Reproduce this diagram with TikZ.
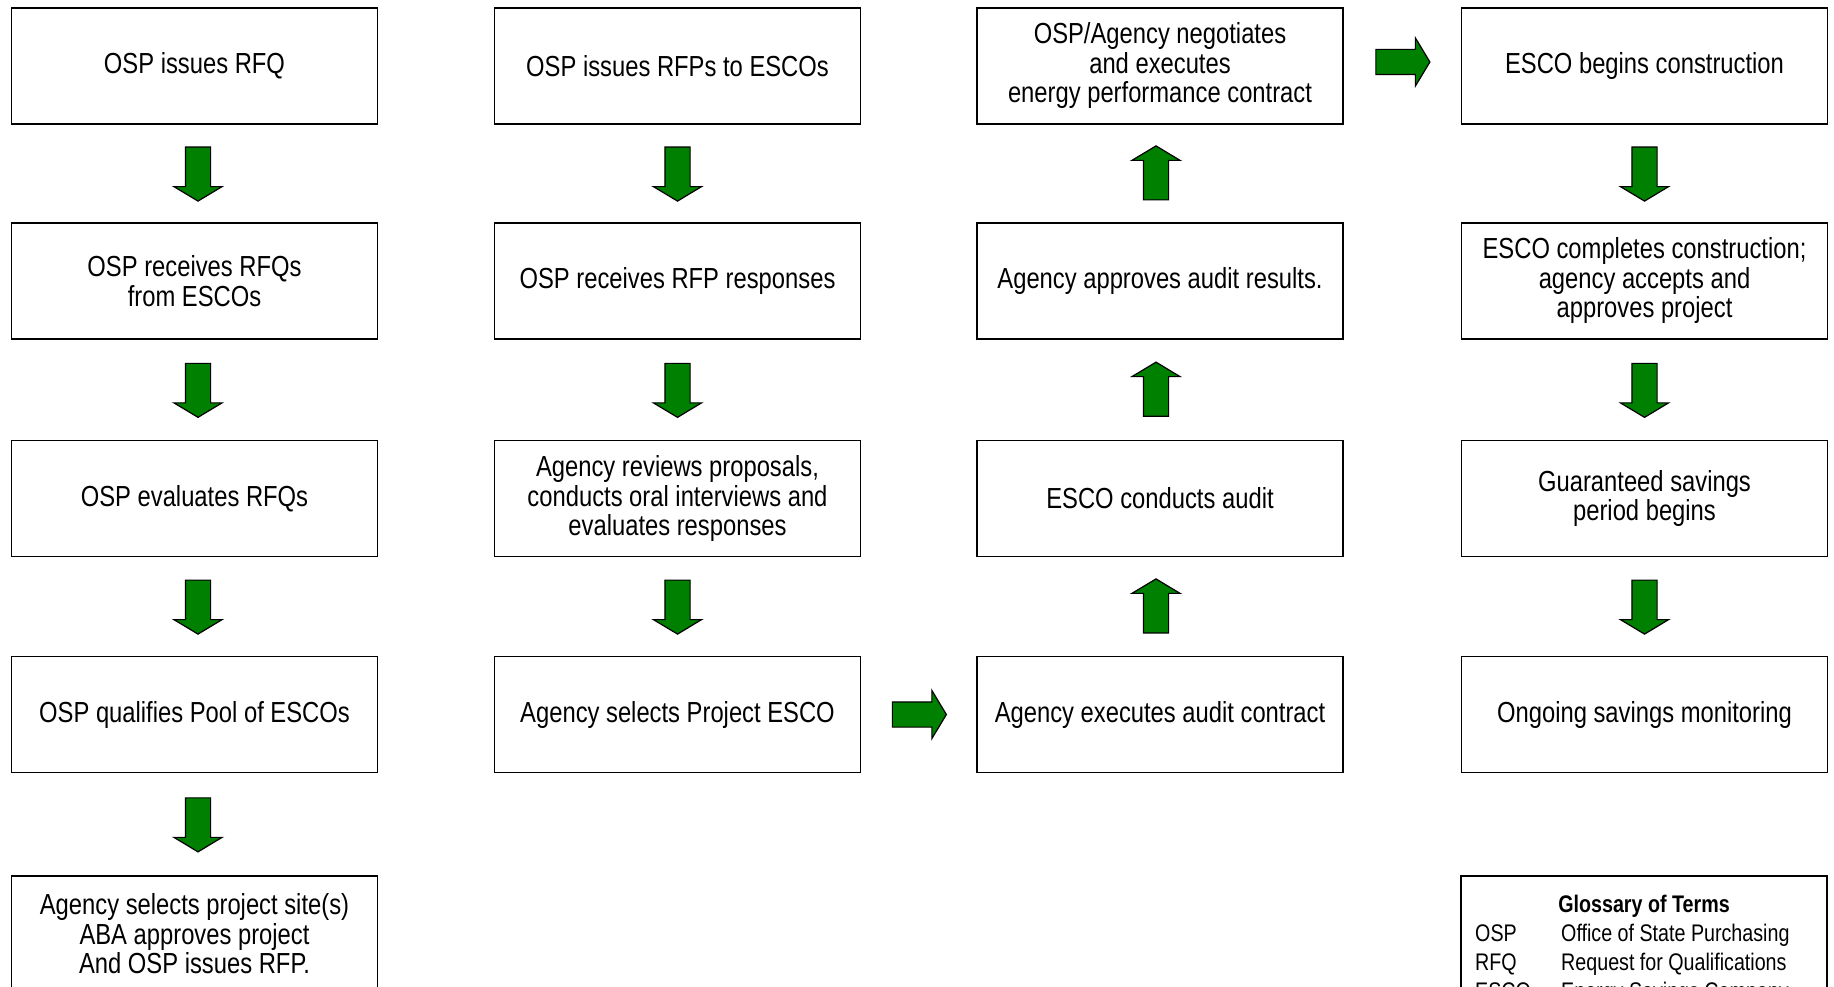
\documentclass[tikz,border=0pt]{standalone}
\usepackage{fontspec}
\setmainfont{Liberation Sans}[FakeStretch=0.82]
\usetikzlibrary{calc,shapes.arrows}
\definecolor{arrowgreen}{RGB}{0,128,0}

\begin{document}
\begin{tikzpicture}[x=1pt,y=-1pt,
		stepbox/.style={draw, line width=1.4pt, minimum width=366pt, minimum height=116pt, align=center, inner sep=0pt, font=\fontsize{29}{29.5}\selectfont},
		blockarrow/.style={single arrow, draw, fill=arrowgreen, line width=1.2pt, inner xsep=0pt, inner ysep=12pt, minimum height=54pt, single arrow head extend=11.5pt, single arrow tip angle=118, anchor=tail},
		downarrow/.style={blockarrow, rotate=-90},
		uparrow/.style={blockarrow, rotate=90},
		gloss/.style={font=\fontsize{24}{29}\selectfont, inner sep=0pt}]
			\useasboundingbox (0,0) rectangle (1834,987);
			\clip (0,0) rectangle (1834,987);
			\node[stepbox] (rfq) at (194.5,66) {OSP issues RFQ};
			\node[stepbox] (rfqin) at (194.5,281) {OSP receives RFQs\\from ESCOs};
			\node[stepbox] (rfqeval) at (194.5,498.5) {OSP evaluates RFQs};
			\node[stepbox] (pool) at (194.5,714.5) {OSP qualifies Pool of ESCOs};
			\node[stepbox] (site) at (194.5,934) {Agency selects project site(s)\\ABA approves project\\And OSP issues RFP.};
			\node[stepbox] (rfp) at (677.5,66) {OSP issues RFPs to ESCOs};
			\node[stepbox] (rfpin) at (677.5,281) {OSP receives RFP responses};
			\node[stepbox] (review) at (677.5,498.5) {Agency reviews proposals,\\conducts oral interviews and\\evaluates responses};
			\node[stepbox] (select) at (677.5,714.5) {Agency selects Project ESCO};
			\node[stepbox] (contract) at (1160,66) {OSP/Agency negotiates\\and executes\\energy performance contract};
			\node[stepbox] (approve) at (1160,281) {Agency approves audit results.};
			\node[stepbox] (audit) at (1160,498.5) {ESCO conducts audit};
			\node[stepbox] (auditct) at (1160,714.5) {Agency executes audit contract};
			\node[stepbox] (build) at (1644.5,66) {ESCO begins construction};
			\node[stepbox] (accept) at (1644.5,281) {ESCO completes construction;\\agency accepts and\\approves project};
			\node[stepbox] (savings) at (1644.5,498.5) {Guaranteed savings\\period begins};
			\node[stepbox] (monitor) at (1644.5,714.5) {Ongoing savings monitoring};
			\node[downarrow] (a1) at ($(rfq.south)!0.5!(rfqin.north)+(3.5,-27)$) {};
			\node[downarrow] (a2) at ($(rfqin.south)!0.5!(rfqeval.north)+(3.5,-27)$) {};
			\node[downarrow] (a3) at ($(rfqeval.south)!0.5!(pool.north)+(3.5,-27)$) {};
			\node[downarrow] (a4) at ($(pool.south)!0.5!(site.north)+(3.5,-27)$) {};
			\node[downarrow] (b1) at ($(rfp.south)!0.5!(rfpin.north)+(0,-27)$) {};
			\node[downarrow] (b2) at ($(rfpin.south)!0.5!(review.north)+(0,-27)$) {};
			\node[downarrow] (b3) at ($(review.south)!0.5!(select.north)+(0,-27)$) {};
			\node[blockarrow] (b4) at ($(select.east)!0.5!(auditct.west)+(-27,0)$) {};
			\node[uparrow] (c1) at ($(auditct.north)!0.5!(audit.south)+(-4,27)$) {};
			\node[uparrow] (c2) at ($(audit.north)!0.5!(approve.south)+(-4,27)$) {};
			\node[uparrow] (c3) at ($(approve.north)!0.5!(contract.south)+(-4,27)$) {};
			\node[blockarrow] (c4) at ($(contract.east)!0.5!(build.west)+(-27,-4)$) {};
			\node[downarrow] (d1) at ($(build.south)!0.5!(accept.north)+(0,-27)$) {};
			\node[downarrow] (d2) at ($(accept.south)!0.5!(savings.north)+(0,-27)$) {};
			\node[downarrow] (d3) at ($(savings.south)!0.5!(monitor.north)+(0,-27)$) {};
			\node[draw, line width=1.4pt, minimum width=366pt, minimum height=116pt] (glossary) at (1644,934) {};
			\node[gloss, font=\fontsize{24}{29}\selectfont\bfseries, anchor=base] (glosstitle) at (1644,912.7) {Glossary of Terms};
			\node[gloss, anchor=base west] (osp) at (1475,941.7) {OSP};
			\node[gloss, anchor=base west] (ospdef) at (1561,941.7) {Office of State Purchasing};
			\node[gloss, anchor=base west] (rfqabbr) at (1475,970.5) {RFQ};
			\node[gloss, anchor=base west] (rfqdef) at (1561,970.5) {Request for Qualifications};
			\node[gloss, anchor=base west] (esco) at (1475,999.3) {ESCO};
			\node[gloss, anchor=base west] (escodef) at (1561,999.3) {Energy Savings Company};
		\end{tikzpicture}
\end{document}
